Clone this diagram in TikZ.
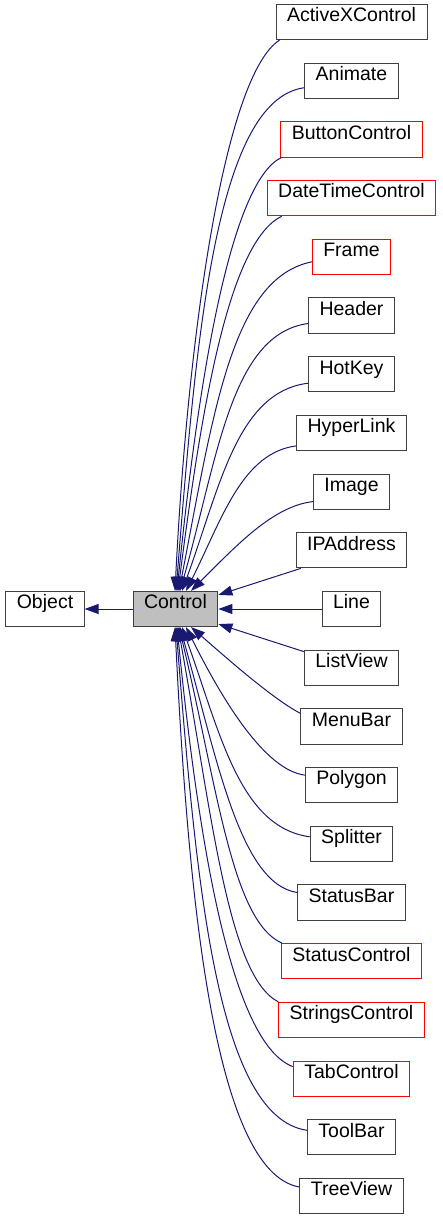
\documentclass[tikz,border=0pt]{standalone}
\usepackage{fontspec}
\setmainfont{Liberation Sans}
\usetikzlibrary{arrows.meta,calc}
\definecolor{edgec}{HTML}{191970}
\newcommand{\clsfont}{\fontsize{19.5}{22}\selectfont}
\tikzset{
  cls/.style={draw=black!75, line width=0.9pt, fill=white, inner xsep=11pt, inner ysep=3.75pt,
    text height=13.75pt, text depth=14pt, font=\clsfont},
  redcls/.style={cls, draw=red},
  edge/.style={draw=edgec, line width=1pt, -{Triangle[length=14pt,width=10pt]}}
}
\begin{document}
\begin{tikzpicture}[x=1pt,y=-1pt]
\useasboundingbox (0,0) rectangle (443,1219);
\node[cls] (obj) at (45,609) {Object};
\node[cls, fill=black!25] (ctl) at (175.5,609) {Control};
\node[cls] (n0) at (351.5,22) {ActiveXControl};
\node[cls] (n1) at (351.5,80.7) {Animate};
\node[redcls] (n2) at (351.5,139.4) {ButtonControl};
\node[redcls] (n3) at (351.5,198.1) {DateTimeControl};
\node[redcls] (n4) at (351.5,256.8) {Frame};
\node[cls] (n5) at (351.5,315.5) {Header};
\node[cls] (n6) at (351.5,374.2) {HotKey};
\node[cls] (n7) at (351.5,432.9) {HyperLink};
\node[cls] (n8) at (351.5,491.6) {Image};
\node[cls] (n9) at (351.5,550.3) {IPAddress};
\node[cls] (n10) at (351.5,609) {Line};
\node[cls] (n11) at (351.5,667.7) {ListView};
\node[cls] (n12) at (351.5,726.4) {MenuBar};
\node[cls] (n13) at (351.5,785.1) {Polygon};
\node[cls] (n14) at (351.5,843.8) {Splitter};
\node[cls] (n15) at (351.5,902.5) {StatusBar};
\node[redcls] (n16) at (351.5,961.2) {StatusControl};
\node[redcls] (n17) at (351.5,1019.9) {StringsControl};
\node[redcls] (n18) at (351.5,1078.6) {TabControl};
\node[cls] (n19) at (351.5,1137.3) {ToolBar};
\node[cls] (n20) at (351.5,1196) {TreeView};

\draw[edge] (ctl.west) -- (obj.east);
% top edges
\draw[edge] ($(n0.south west)+(4,0)$) .. controls (225,75) and (188,330) .. ($(ctl.north)+(-0.5,0)$);
\draw[edge] ($(n1.west)+(0,7)$) .. controls (215,100) and (196,340) .. ($(ctl.north)+(0.5,0)$);
\draw[edge] ($(n2.south west)+(1,0)$) .. controls (231,182) and (199,374) .. ($(ctl.north)+(1.5,0)$);
\draw[edge] ($(n3.south west)+(15,0)$) .. controls (229,242) and (202,404) .. ($(ctl.north)+(2.5,0)$);
\draw[edge] ($(n4.west)+(0,5)$) .. controls (232,278) and (214,410) .. ($(ctl.north)+(3.5,0)$);
\draw[edge] ($(n5.west)+(0,8)$) .. controls (231,334) and (218,457) .. ($(ctl.north)+(4.5,0)$);
\draw[edge] ($(n6.west)+(0,9)$) .. controls (237,392) and (220,487) .. ($(ctl.north)+(6.5,0)$);
\draw[edge] ($(n7.west)+(0,13)$) .. controls (242,453) and (222,519) .. ($(ctl.north)+(10.5,0)$);
\draw[edge] ($(n8.west)+(0,10)$) .. controls (273,506) and (236,546) .. ($(ctl.north)+(15.5,0)$);
\draw[edge] ($(n9.south west)+(5,0)$) -- ($(ctl.north east)+(0,4)$);
\draw[edge] (n10.west) -- (ctl.east);
% bottom edges
\draw[edge] ($(n11.north west)+(0,2)$) -- ($(ctl.south east)+(0,-3)$);
\draw[edge] ($(n12.west)+(0,-13)$) .. controls (271,698) and (221,653) .. ($(ctl.south)+(15.5,0)$);
\draw[edge] ($(n13.west)+(0,-10)$) .. controls (265,770) and (223,701) .. ($(ctl.south)+(10.5,0)$);
\draw[edge] ($(n14.west)+(0,-7)$) .. controls (239,827) and (220,732) .. ($(ctl.south)+(6.5,0)$);
\draw[edge] ($(n15.west)+(0,-10)$) .. controls (240,884) and (217,759) .. ($(ctl.south)+(4.5,0)$);
\draw[edge] ($(n16.north west)+(1,0)$) .. controls (232,921) and (218,790) .. ($(ctl.south)+(3.5,0)$);
\draw[edge] (n17.north west) .. controls (228,976) and (212,815) .. ($(ctl.south)+(2.5,0)$);
\draw[edge] ($(n18.west)+(0,-12)$) .. controls (232,1044) and (199,847) .. ($(ctl.south)+(1.5,0)$);
\draw[edge] ($(n19.west)+(0,-7)$) .. controls (216,1117) and (196,879) .. ($(ctl.south)+(0.5,0)$);
\draw[edge] ($(n20.west)+(0,-9)$) .. controls (213,1172) and (188,892) .. ($(ctl.south)+(-0.5,0)$);
\end{tikzpicture}
\end{document}
